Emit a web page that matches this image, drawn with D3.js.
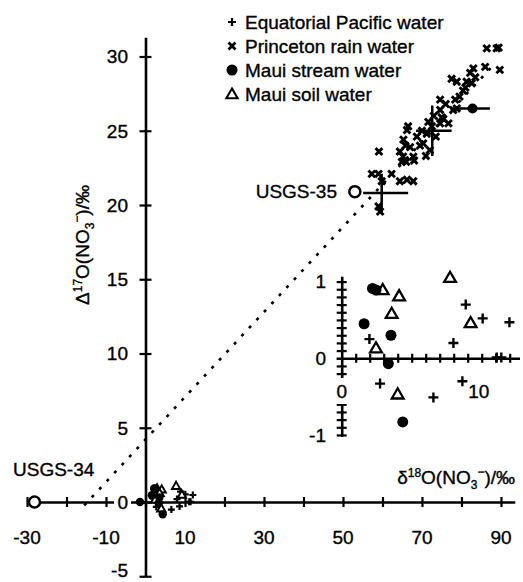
<!DOCTYPE html>
<html><head><meta charset="utf-8">
<script src="https://cdn.jsdelivr.net/npm/d3@7"></script>
<style>
body{margin:0;background:#fff}
text{font-family:"Liberation Sans",Arial,sans-serif;fill:#000;font-size:19px;stroke:#000;stroke-width:0.35px}
</style>
</head><body><svg id="c" width="523" height="582"></svg>
<script>
// ---------- data ----------
const seriesNames = ["Equatorial Pacific water","Princeton rain water","Maui stream water","Maui soil water"];
const pacific = [[1.98,0.25],[2.74,-0.33],[6.55,-0.51],[8.62,-0.30],[7.98,0.20],[8.86,0.70],[10.07,0.52],[11.98,0.47],[11.07,0.01],[11.4,0.01]];
const stream = [[-1.4,0.0],[2.2,0.91],[2.45,0.89],[1.6,0.45],[3.52,0.30],[3.33,-0.07],[4.36,-0.83]];
const soil = [[2.93,0.88],[4.1,0.80],[3.57,0.57],[2.45,0.12],[4.0,-0.48],[7.74,1.04],[9.21,0.45]];
const princeton = [[57.3,22.1],[59.0,22.1],[62.3,22.1],[64.4,21.6],[66.2,21.7],[67.8,21.6],[59.1,23.6],[59.0,19.9],[59.4,19.55],[59.8,21.6],
 [64.4,23.6],[65.2,23.25],[65.3,24.4],[66.2,25.05],[67.0,23.9],[67.8,23.25],[68.7,24.6],[70.3,24.15],[71.2,24.8],[72.0,23.7],
 [72.5,25.3],[74.6,25.5],[76.7,25.5],[66.5,25.3],[71.6,25.6],[75.4,25.8],[74.6,26.4],[77.9,26.4],[74.6,27.1],[78.4,27.1],
 [75.0,25.9],[78.8,26.5],[80.4,27.7],[77.5,28.5],[78.8,28.3],[81.3,28.3],[82.2,28.9],[83.0,29.2],[82.6,28.2],[86.0,29.3],
 [89.7,29.1],[86.4,30.55],[88.9,30.55],[89.4,30.6],[69.5,24.0],[70.0,25.0],[73.5,24.6],[68.0,23.0],[66.0,22.9],[73.0,26.0],
 [76.0,26.8],[71.0,23.3],[64.9,22.9],[65.8,24.0],[79.5,27.3],[81.0,27.9],[83.5,28.6]];
// error-bar crosses: [x, y, xlo, xhi, ylo, yhi]
const crosses = [[59.8,20.8,55.1,66.5,19.4,22.1],[82.8,26.5,78.0,87.2,26.5,26.5],[72.6,25.0,68.5,77.5,23.3,26.7]];
const standards = [{name:"USGS-34",x:-28.1,y:0.0},{name:"USGS-35",x:53.0,y:20.9}];
const lineX = [-15.5,88];
const lineY = [-0.23,29.4];
const xTicks = [-30,-20,-10,0,10,20,30,40,50,60,70,80,90];
const xTickLabels = [-30,-10,10,30,50,70,90];
const yTicks = [-5,0,5,10,15,20,25,30];
const insetXTicks = [1,2,3,4,5,6,7,8,9,10,11,12];
const insetXLabels = [0,10];
const insetYTicks = [-1,-0.9,-0.8,-0.7,-0.6,-0.5,-0.4,-0.3,-0.2,-0.1,0.1,0.2,0.3,0.4,0.5,0.6,0.7,0.8,0.9,1];
const insetYLabels = [-1,0,1];

// ---------- drawing ----------
const svg = d3.select("#c");
const x = d3.scaleLinear().domain([-30,93.5]).range([27,514.8]);
const y = d3.scaleLinear().domain([-5,31.3]).range([576.25,37.2]);

function plus(s){return `M${-s},0H${s}M0,${-s}V${s}`;}
function cross(s){return `M${-s},${-s}L${s},${s}M${-s},${s}L${s},${-s}`;}
const tri = s => d3.symbol().type(d3.symbolTriangle).size(s)();

// dotted line
svg.append("path").datum(lineX.map((v,i)=>[v,lineY[i]]))
  .attr("d",d3.line().x(d=>x(d[0])).y(d=>y(d[1])))
  .attr("fill","none").attr("stroke","#000").attr("stroke-width",2.6).attr("stroke-dasharray","3,8");

// axes
const xAxis = d3.axisBottom(x).tickValues(xTicks).tickSizeInner(5).tickSizeOuter(0).tickFormat("");
const gx = svg.append("g").attr("transform",`translate(0,${y(0)})`).call(xAxis);
gx.selectAll(".tick line").attr("y1",-5).attr("y2",5).attr("stroke-width",2.2);
gx.select(".domain").attr("stroke-width",2.6);
const yAxis = d3.axisLeft(y).tickValues(yTicks).tickSizeInner(6).tickSizeOuter(0).tickFormat("");
const gy = svg.append("g").attr("transform",`translate(${x(0)},0)`).call(yAxis);
gy.selectAll(".tick line").attr("x1",-6).attr("x2",6).attr("stroke-width",2.2);
gy.select(".domain").attr("stroke-width",2.6);

// tick labels
svg.append("g").selectAll("text").data(xTickLabels).join("text")
  .attr("x",d=>x(d)).attr("y",544).attr("text-anchor","middle").text(d=>d);
const yl = svg.append("g");
yl.selectAll("rect").data(yTicks.filter(d=>d===0)).join("rect")
  .attr("x",114).attr("y",y(0)-8).attr("width",17).attr("height",16).attr("fill","#fff");
yl.selectAll("text").data(yTicks).join("text")
  .attr("x",128).attr("y",d=>Math.min(y(d)+6.8,577)).attr("text-anchor","end").text(d=>d);

// axis titles
const yt = svg.append("text").attr("transform",`translate(89,245) rotate(-90)`).attr("text-anchor","middle");
yt.append("tspan").text("Δ");
yt.append("tspan").attr("dy",-7).attr("font-size",12).text("17");
yt.append("tspan").attr("dy",7).text("O(NO");
yt.append("tspan").attr("dy",5).attr("font-size",12).text("3");
yt.append("tspan").attr("dy",-13).attr("font-size",12).text("−");
yt.append("tspan").attr("dy",8).text(")/‰");
const xt = svg.append("text").attr("x",515).attr("y",484).attr("text-anchor","end");
xt.append("tspan").text("δ");
xt.append("tspan").attr("dy",-7).attr("font-size",12).text("18");
xt.append("tspan").attr("dy",7).text("O(NO");
xt.append("tspan").attr("dy",5).attr("font-size",12).text("3");
xt.append("tspan").attr("dy",-13).attr("font-size",12).text("−");
xt.append("tspan").attr("dy",8).text(")/‰");

// error crosses
const cg = svg.append("g").attr("stroke","#000").attr("stroke-width",2.5);
crosses.forEach(c=>{
  cg.append("line").attr("x1",x(c[2])).attr("x2",x(c[3])).attr("y1",y(c[1])).attr("y2",y(c[1]));
  if(c[4]!==c[5]) cg.append("line").attr("x1",x(c[0])).attr("x2",x(c[0])).attr("y1",y(c[4])).attr("y2",y(c[5]));
});
svg.append("circle").attr("cx",x(crosses[1][0])).attr("cy",y(crosses[1][1])).attr("r",5).attr("fill","#000");

// main points
svg.append("g").selectAll("path").data(princeton).join("path")
  .attr("transform",d=>`translate(${x(d[0])},${y(d[1])})`).attr("d",cross(3.4))
  .attr("stroke","#000").attr("stroke-width",2.9).attr("fill","none");
svg.append("g").selectAll("path").data(pacific).join("path")
  .attr("transform",d=>`translate(${x(d[0])},${y(d[1])})`).attr("d",plus(3.5))
  .attr("stroke","#000").attr("stroke-width",2.2).attr("fill","none");
svg.append("g").selectAll("path").data(soil).join("path")
  .attr("transform",d=>`translate(${x(d[0])},${y(d[1])})`).attr("d",tri(30))
  .attr("stroke","#000").attr("stroke-width",1.9).attr("fill","#fff");
svg.append("g").selectAll("circle").data(stream).join("circle")
  .attr("cx",d=>x(d[0])).attr("cy",d=>y(d[1])).attr("r",4.2).attr("fill","#000");

// standards
svg.append("g").selectAll("circle").data(standards).join("circle")
  .attr("cx",d=>x(d.x)).attr("cy",d=>y(d.y)).attr("r",5.5)
  .attr("fill","#fff").attr("stroke","#000").attr("stroke-width",2.5);
svg.append("text").attr("x",13).attr("y",476).text(standards[0].name);
svg.append("text").attr("x",337).attr("y",198).attr("text-anchor","end").text(standards[1].name);

// legend
const leg = svg.append("g");
const ly = [22,46,70,94];
seriesNames.forEach((n,i)=>{
  leg.append("text").attr("x",245).attr("y",ly[i]+7).text(n);
});
leg.append("path").attr("transform",`translate(232,${ly[0]})`).attr("d",plus(4)).attr("stroke","#000").attr("stroke-width",2.2);
leg.append("path").attr("transform",`translate(232,${ly[1]})`).attr("d",cross(3.5)).attr("stroke","#000").attr("stroke-width",2.8);
leg.append("circle").attr("cx",232).attr("cy",ly[2]).attr("r",5.5).attr("fill","#000");
leg.append("path").attr("transform",`translate(232,${ly[3]+1})`).attr("d",tri(55)).attr("stroke","#000").attr("stroke-width",2.1).attr("fill","#fff");

// ---------- inset ----------
const ix = d3.scaleLinear().domain([-0.4,12.7]).range([336.1,519.5]);
const iy = d3.scaleLinear().domain([-1.02,1.07]).range([436.5,276.2]);
const ixAxis = d3.axisBottom(ix).tickValues(insetXTicks).tickSizeInner(4.5).tickSizeOuter(0).tickFormat("");
const gix = svg.append("g").attr("transform",`translate(0,${iy(0)})`).call(ixAxis);
gix.selectAll(".tick line").attr("y1",-4.5).attr("y2",4.5).attr("stroke-width",2.2);
gix.select(".domain").attr("stroke-width",2.6);
const iyAxis = d3.axisLeft(iy).tickValues(insetYTicks).tickSizeInner(5).tickSizeOuter(0).tickFormat("");
const giy = svg.append("g").attr("transform",`translate(${ix(0)},0)`).call(iyAxis);
giy.selectAll(".tick line").attr("x1",-5).attr("x2",5).attr("stroke-width",2.2);
giy.select(".domain").attr("stroke-width",2.6);
// inset labels
const ixl = svg.append("g");
ixl.selectAll("rect").data(insetXLabels.filter(d=>d===0)).join("rect")
  .attr("x",ix(0)-8).attr("y",378).attr("width",16).attr("height",26).attr("fill","#fff");
ixl.selectAll("text").data(insetXLabels).join("text")
  .attr("x",d=>ix(d)-(d===10?3:0)).attr("y",398).attr("text-anchor","middle").text(d=>d);
svg.append("g").selectAll("text").data(insetYLabels).join("text")
  .attr("x",326).attr("y",d=>iy(d)+6.8).attr("text-anchor","end").text(d=>d);
// inset points
const inRange = d => d[0]>=-0.3 && d[0]<=12.7;
svg.append("g").selectAll("path").data(pacific.filter(inRange)).join("path")
  .attr("transform",d=>`translate(${ix(d[0])},${iy(d[1])})`).attr("d",plus(5))
  .attr("stroke","#000").attr("stroke-width",2.4).attr("fill","none");
svg.append("g").selectAll("path").data(soil.filter(inRange)).join("path")
  .attr("transform",d=>`translate(${ix(d[0])},${iy(d[1])})`).attr("d",tri(60))
  .attr("stroke","#000").attr("stroke-width",2.3).attr("fill","none");
svg.append("g").selectAll("circle").data(stream.filter(inRange)).join("circle")
  .attr("cx",d=>ix(d[0])).attr("cy",d=>iy(d[1])).attr("r",5.5).attr("fill","#000");
</script></body></html>
